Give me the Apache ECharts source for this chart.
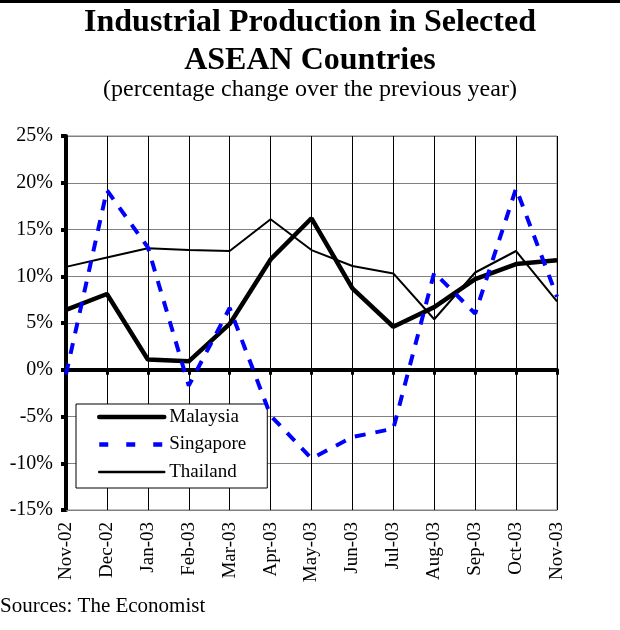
<!DOCTYPE html>
<html>
<head>
<meta charset="utf-8">
<script src="https://cdn.jsdelivr.net/npm/echarts@6/dist/echarts.min.js"></script>
<style>
html,body{margin:0;padding:0;background:#fff;}
#chart{width:620px;height:630px;}
</style>
</head>
<body>
<div id="chart"></div>
<script>
const months = ['Nov-02','Dec-02','Jan-03','Feb-03','Mar-03','Apr-03','May-03','Jun-03','Jul-03','Aug-03','Sep-03','Oct-03','Nov-03'];
const malaysia = [6.4, 8.1, 1.1, 0.9, 4.9, 11.8, 16.2, 8.7, 4.6, 6.7, 9.7, 11.3, 11.7];
const singapore = [-0.5, 19.2, 13.1, -1.7, 6.6, -4.9, -9.5, -7.2, -6.3, 10.4, 6.0, 19.4, 7.8];
const thailand = [11.0, 12.0, 13.0, 12.8, 12.7, 16.1, 12.8, 11.1, 10.3, 5.4, 10.4, 12.7, 7.3];
const yTicks = {min: -15, max: 25, interval: 5};

const serif = 'Liberation Serif, Times New Roman, serif';
const chart = echarts.init(document.getElementById('chart'), null, {renderer: 'canvas'});
chart.setOption({
  animation: false,
  backgroundColor: '#fff',
  graphic: [
    {type: 'rect', left: 0, top: 0, shape: {width: 620, height: 3}, style: {fill: '#000'}},
    {type: 'text', left: 'center', top: 7, style: {text: 'Industrial Production in Selected', font: 'bold 32px ' + serif, fill: '#000'}},
    {type: 'text', left: 'center', top: 45, style: {text: 'ASEAN Countries', font: 'bold 32px ' + serif, fill: '#000'}},
    {type: 'text', left: 'center', top: 78, style: {text: '(percentage change over the previous year)', font: '24px ' + serif, fill: '#000'}},
    {type: 'text', left: 0, top: 596, style: {text: 'Sources: The Economist', font: '21px ' + serif, fill: '#000'}}
  ],
  grid: {left: 66, right: 63, top: 136, bottom: 120, show: true, borderColor: '#808080', borderWidth: 1, backgroundColor: 'transparent'},
  legend: {
    left: 76, top: 404, orient: 'vertical',
    backgroundColor: '#fff', borderColor: '#000', borderWidth: 1,
    padding: [0, 21, 3, 21],
    itemWidth: 65, itemHeight: 14, itemGap: 1.5,
    itemStyle: {opacity: 0},
    textStyle: {fontFamily: serif, fontSize: 19, color: '#000', lineHeight: 16, padding: [10, 0, 0, 0]},
    data: [
      {name: 'Malaysia', itemStyle: {opacity: 0}, lineStyle: {color: '#000', width: 4.5, type: 'solid', cap: 'round'}},
      {name: 'Singapore', itemStyle: {opacity: 0}, lineStyle: {color: '#0000ff', width: 4.5, type: [9, 18]}},
      {name: 'Thailand', itemStyle: {opacity: 0}, lineStyle: {color: '#000', width: 2.5, type: 'solid', cap: 'round'}}
    ]
  },
  xAxis: [
    {
      type: 'category', data: months, boundaryGap: false, position: 'bottom',
      axisLine: {onZero: false, lineStyle: {color: '#808080', width: 1}},
      axisTick: {show: false},
      axisLabel: {rotate: 90, fontFamily: serif, fontSize: 19, color: '#000', margin: 12, interval: 0},
      splitLine: {show: true, interval: 0, lineStyle: {color: '#000', width: 1}}
    },
    {
      type: 'category', data: months, boundaryGap: false, position: 'top',
      axisLine: {onZero: true, lineStyle: {color: '#000', width: 4}},
      axisTick: {show: true, inside: true, length: 5, interval: 0, lineStyle: {color: '#000', width: 3}},
      axisLabel: {show: false},
      splitLine: {show: false}
    }
  ],
  yAxis: {
    type: 'value', min: yTicks.min, max: yTicks.max, interval: yTicks.interval,
    axisLine: {show: true, lineStyle: {color: '#000', width: 4}},
    axisTick: {show: true, length: 5, lineStyle: {color: '#000', width: 4}},
    axisLabel: {formatter: '{value}%', fontFamily: serif, fontSize: 20, color: '#000', margin: 13},
    splitLine: {show: true, lineStyle: {color: '#808080', width: 1}}
  },
  series: [
    {name: 'Malaysia', type: 'line', data: malaysia, symbol: 'none', z: 4,
     lineStyle: {color: '#000', width: 4.5}, itemStyle: {color: '#000'}},
    {name: 'Singapore', type: 'line', data: singapore, symbol: 'none', z: 5,
     lineStyle: {color: '#0000ff', width: 4, type: [11, 10]}, itemStyle: {color: '#0000ff'}},
    {name: 'Thailand', type: 'line', data: thailand, symbol: 'none', z: 3,
     lineStyle: {color: '#000', width: 2}, itemStyle: {color: '#000'}}
  ]
});
</script>
</body>
</html>
